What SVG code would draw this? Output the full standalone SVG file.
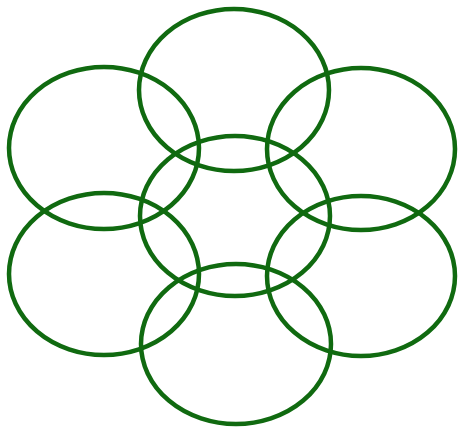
<svg xmlns="http://www.w3.org/2000/svg" width="458" height="428" viewBox="0 0 458 428">
<style>
.r{fill:none;stroke:#106a10;stroke-width:4.5}
</style>
<rect width="458" height="428" fill="#fff"/>
<g id="top"><ellipse class="r" cx="234" cy="90" rx="95" ry="81"/></g>
<g id="upper-left"><ellipse class="r" cx="104" cy="148" rx="95" ry="81"/></g>
<g id="upper-right"><ellipse class="r" cx="361" cy="149" rx="94" ry="81"/></g>
<g id="center"><ellipse class="r" cx="235" cy="216" rx="95" ry="80"/></g>
<g id="lower-left"><ellipse class="r" cx="104" cy="274" rx="95" ry="81"/></g>
<g id="lower-right"><ellipse class="r" cx="361" cy="276" rx="94" ry="80"/></g>
<g id="bottom"><ellipse class="r" cx="236" cy="344" rx="95" ry="80"/></g>
<g id="connectors"></g>
</svg>
